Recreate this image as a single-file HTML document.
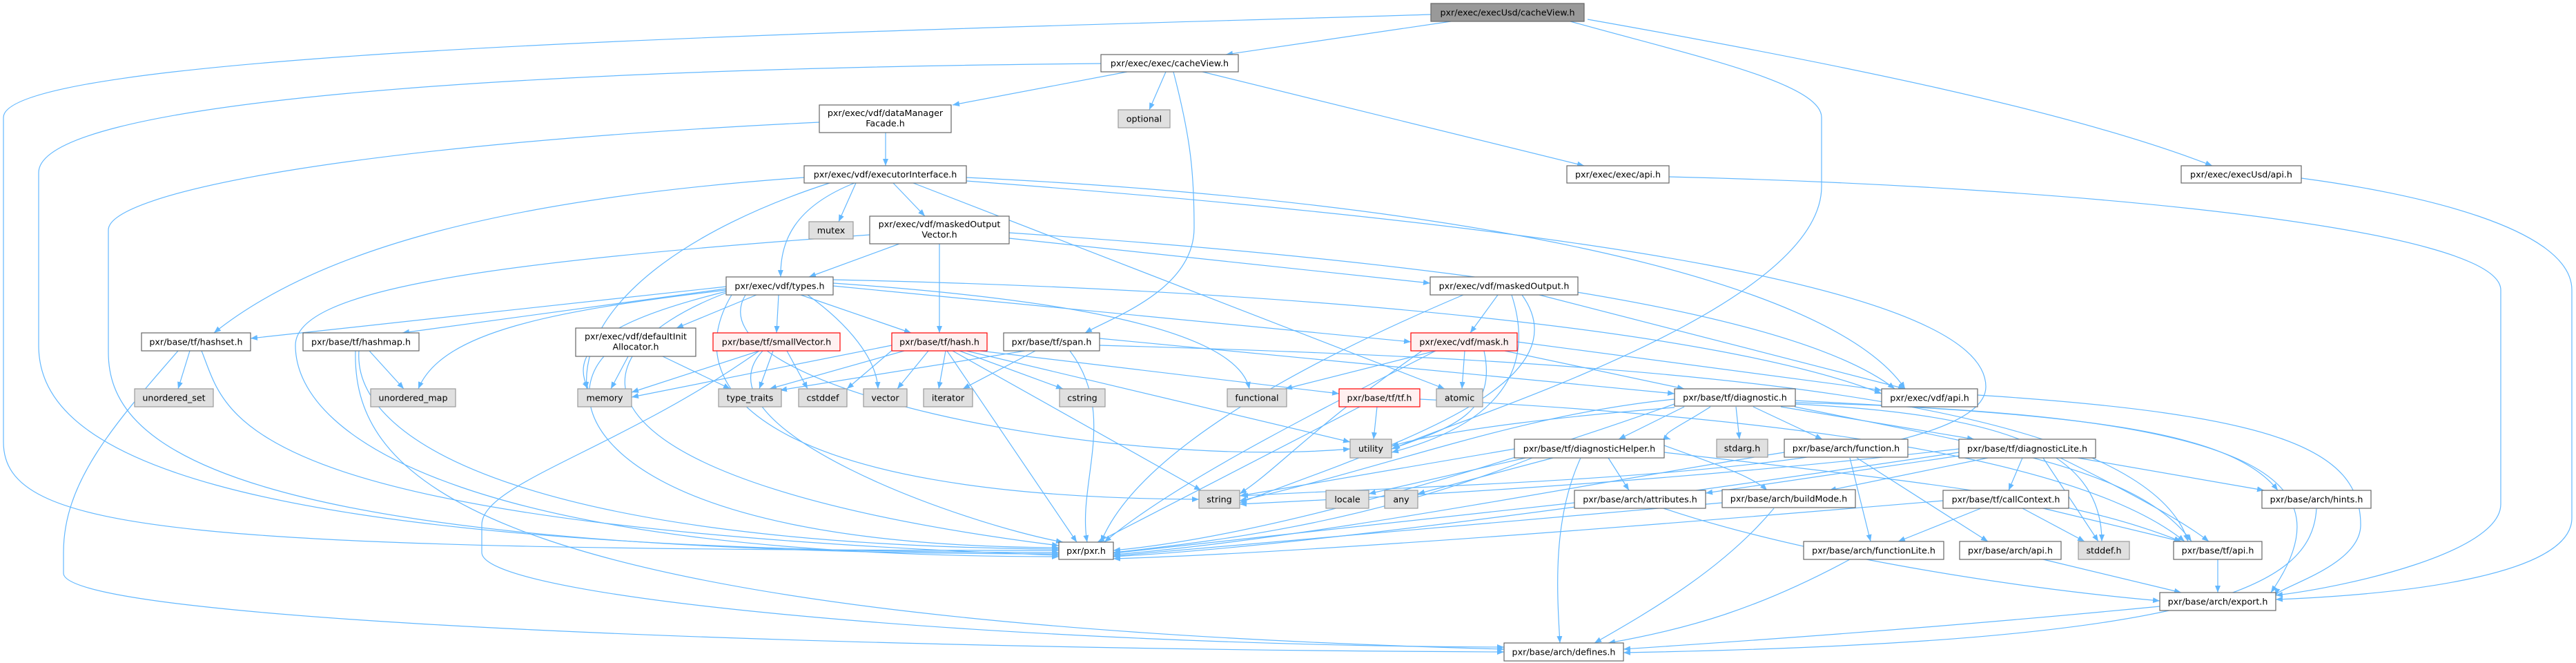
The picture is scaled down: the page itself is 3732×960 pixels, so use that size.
<!DOCTYPE html>
<html><head><meta charset="utf-8"><style>
html,body{margin:0;padding:0;background:#fff;}
svg{display:block;}
text{font-family:"DejaVu Sans","Liberation Sans",sans-serif;font-size:12.7px;fill:#000;text-anchor:middle;}
.e{fill:none;stroke:#63b8ff;stroke-width:1.2;marker-end:url(#a);}
.n{fill:#fff;stroke:#666;stroke-width:1.2;}
.g{fill:#e0e0e0;stroke:#999;stroke-width:1.2;}
.r{fill:#fff0f0;stroke:#f00;stroke-width:1.2;}
.t{fill:#999;stroke:#666;stroke-width:1.2;}
</style></head><body>
<svg width="3732" height="960" viewBox="0 0 3732 960" xmlns="http://www.w3.org/2000/svg">
<defs><marker id="a" markerUnits="userSpaceOnUse" markerWidth="11" markerHeight="8" refX="10" refY="4" orient="auto"><path d="M0,0 L10,4 L0,8 z" fill="#63b8ff"/></marker></defs>
<g>
<path class="e" d="M2102,31 L1776,79"/>
<path class="e" d="M2073,21 C1300,45 5,70 5,170 L5,640 C5,770 250,797 1534,797"/>
<path class="e" d="M2275,31 C2450,80 2639,120 2639,170 L2639,270 C2639,450 2100,610 2018,650"/>
<path class="e" d="M2300,28 C2650,90 3000,160 3205,240"/>
<path class="e" d="M1595,92 C700,100 56,150 56,250 L56,500 C56,640 250,800 1534,800"/>
<path class="e" d="M1633,104 L1380,152"/>
<path class="e" d="M1689,104 L1665,159"/>
<path class="e" d="M1700,104 C1725,200 1730,250 1730,330 C1730,420 1610,460 1572,482"/>
<path class="e" d="M1742,104 L2295,240"/>
<path class="e" d="M1187,177 C500,210 157,280 157,333 L157,510 C157,640 300,802 1534,802"/>
<path class="e" d="M1283,192 L1283,240"/>
<path class="e" d="M1165,257 C700,290 450,370 310,482"/>
<path class="e" d="M1202,265 C1000,330 840,440 850,563"/>
<path class="e" d="M1240,265 L1215,321"/>
<path class="e" d="M1238,265 C1150,300 1130,350 1131,401"/>
<path class="e" d="M1294,265 L1340,313"/>
<path class="e" d="M1323,265 L2093,563"/>
<path class="e" d="M1400,257 C2100,290 2650,400 2760,563"/>
<path class="e" d="M1400,262 C2300,330 2877,420 2877,560 C2877,690 2100,700 1798,718"/>
<path class="e" d="M2418,256 C3000,270 3623,330 3623,420 L3623,730 C3623,800 3400,850 3297,862"/>
<path class="e" d="M3334,258 C3500,280 3726,330 3726,420 L3726,750 C3726,830 3500,860 3297,868"/>
<path class="e" d="M1303,353 L1172,401"/>
<path class="e" d="M1361,353 L1361,482"/>
<path class="e" d="M1260,340 C700,380 428,420 428,500 C428,640 700,806 1534,806"/>
<path class="e" d="M1462,345 L2072,410"/>
<path class="e" d="M1462,337 C2100,380 2600,450 2745,563"/>
<path class="e" d="M1052,415 L363,490"/>
<path class="e" d="M1052,418 L583,482"/>
<path class="e" d="M1052,420 C800,450 640,480 606,563"/>
<path class="e" d="M1052,422 C900,460 820,500 852,563"/>
<path class="e" d="M1052,424 C800,520 820,700 1534,790"/>
<path class="e" d="M1096,427 L980,475"/>
<path class="e" d="M1128,427 L1125,482"/>
<path class="e" d="M1160,427 L1320,482"/>
<path class="e" d="M1170,427 C1230,470 1270,520 1272,563"/>
<path class="e" d="M1207,410 C1500,430 1790,470 1810,563"/>
<path class="e" d="M1207,414 L2044,495"/>
<path class="e" d="M1207,405 C1900,420 2500,480 2726,570"/>
<path class="e" d="M1060,427 C980,560 1100,720 1737,723"/>
<path class="e" d="M1080,427 C1000,560 1600,680 1956,650"/>
<path class="e" d="M275,508 L258,563"/>
<path class="e" d="M292,508 C330,600 320,760 1534,804"/>
<path class="e" d="M258,508 C160,620 92,700 92,800 L92,830 C92,900 1200,940 2179,944"/>
<path class="e" d="M535,508 L585,563"/>
<path class="e" d="M520,508 C510,650 800,790 1534,795"/>
<path class="e" d="M515,508 C510,700 700,900 2179,940"/>
<path class="e" d="M910,516 L885,563"/>
<path class="e" d="M960,516 L1058,563"/>
<path class="e" d="M875,516 C800,600 900,790 1534,793"/>
<path class="e" d="M1100,508 L915,568"/>
<path class="e" d="M1120,508 L1100,563"/>
<path class="e" d="M1140,508 L1170,563"/>
<path class="e" d="M1105,508 C1000,620 1400,760 1540,785"/>
<path class="e" d="M1100,508 C900,650 698,700 698,760 L698,800 C698,870 1500,935 2179,937"/>
<path class="e" d="M1345,508 L1300,563"/>
<path class="e" d="M1370,508 L1360,563"/>
<path class="e" d="M1390,508 L1540,563"/>
<path class="e" d="M1380,508 L1740,710"/>
<path class="e" d="M1400,508 L1956,640"/>
<path class="e" d="M1372,508 L1560,785"/>
<path class="e" d="M1420,508 L1940,570"/>
<path class="e" d="M1292,500 L915,575"/>
<path class="e" d="M1310,508 L1115,563"/>
<path class="e" d="M1295,505 L1227,563"/>
<path class="e" d="M1500,508 L1395,563"/>
<path class="e" d="M1550,508 C1620,600 1560,700 1575,785"/>
<path class="e" d="M1485,508 L1130,565"/>
<path class="e" d="M1593,500 C2300,520 3100,560 3170,784"/>
<path class="e" d="M1593,490 L2426,570"/>
<path class="e" d="M1995,589 L1990,636"/>
<path class="e" d="M1970,589 L1590,785"/>
<path class="e" d="M2057,578 C2500,600 3000,650 3165,784"/>
<path class="e" d="M2080,508 L1862,563"/>
<path class="e" d="M2122,508 L2118,563"/>
<path class="e" d="M2150,508 C2170,600 2100,620 2016,650"/>
<path class="e" d="M2080,508 C1900,600 1700,700 1600,785"/>
<path class="e" d="M2180,508 L2440,563"/>
<path class="e" d="M2198,495 L2726,565"/>
<path class="e" d="M2060,508 C1900,620 1850,680 1796,715"/>
<path class="e" d="M2170,427 L2130,482"/>
<path class="e" d="M2120,427 C1900,520 1650,650 1595,785"/>
<path class="e" d="M2190,427 C2230,550 2150,620 2016,655"/>
<path class="e" d="M2230,427 L2760,563"/>
<path class="e" d="M2205,427 C2300,560 2000,650 1796,728"/>
<path class="e" d="M2515,589 L2520,636"/>
<path class="e" d="M2440,589 L2345,636"/>
<path class="e" d="M2540,589 L2640,636"/>
<path class="e" d="M2580,589 L2860,636"/>
<path class="e" d="M2426,578 C2200,600 2000,680 1796,725"/>
<path class="e" d="M2426,590 C2300,600 2100,620 2016,646"/>
<path class="e" d="M2426,585 C2100,700 1800,780 1613,797"/>
<path class="e" d="M2600,589 C2900,650 3100,680 3175,784"/>
<path class="e" d="M2600,585 C2900,600 3045,650 3045,784"/>
<path class="e" d="M2600,580 C3000,600 3230,620 3300,710"/>
<path class="e" d="M2600,583 C3300,600 3400,700 3290,858"/>
<path class="e" d="M2865,572 C3300,600 3420,650 3420,760 C3420,820 3300,850 3297,862"/>
<path class="e" d="M2194,650 L1796,718"/>
<path class="e" d="M2210,663 L1983,715"/>
<path class="e" d="M2250,663 L2054,715"/>
<path class="e" d="M2330,663 L2360,710"/>
<path class="e" d="M2290,663 C2250,750 2255,850 2260,931"/>
<path class="e" d="M2220,663 C2000,750 1800,780 1613,800"/>
<path class="e" d="M2411,655 C2800,700 3000,720 3160,784"/>
<path class="e" d="M2411,645 C2480,670 2540,690 2560,710"/>
<path class="e" d="M2478,589 C2430,620 2400,630 2420,636"/>
<path class="e" d="M2680,663 L2710,784"/>
<path class="e" d="M2690,663 L2880,784"/>
<path class="e" d="M2585,655 C2300,700 1900,780 1613,803"/>
<path class="e" d="M2930,663 L2910,710"/>
<path class="e" d="M2880,663 L2650,710"/>
<path class="e" d="M2960,663 L3040,784"/>
<path class="e" d="M2985,663 C3100,720 3170,760 3200,784"/>
<path class="e" d="M3010,663 L3280,710"/>
<path class="e" d="M2838,655 C2400,720 1900,790 1613,806"/>
<path class="e" d="M2838,650 C2400,700 2000,720 1796,730"/>
<path class="e" d="M2838,660 L2471,714"/>
<path class="e" d="M2870,736 L2750,784"/>
<path class="e" d="M2930,736 L3020,784"/>
<path class="e" d="M2960,736 L3160,784"/>
<path class="e" d="M2815,725 C2400,760 1900,800 1613,809"/>
<path class="e" d="M2570,736 C2500,820 2400,880 2310,931"/>
<path class="e" d="M2495,728 L1613,805"/>
<path class="e" d="M2410,736 C2600,800 2900,850 3129,870"/>
<path class="e" d="M2281,728 L1613,801"/>
<path class="e" d="M3356,736 C3350,850 3200,930 2352,945"/>
<path class="e" d="M2680,810 C2550,880 2450,910 2330,931"/>
<path class="e" d="M2960,810 L3160,858"/>
<path class="e" d="M3213,810 L3213,858"/>
<path class="e" d="M3129,878 C2800,910 2500,930 2352,940"/>
</g>
<g>
<rect class="t" x="2073" y="5" width="222" height="26"/><text x="2184" y="22.5">pxr/exec/execUsd/cacheView.h</text>
<rect class="n" x="1595" y="79" width="199" height="25"/><text x="1694.5" y="96">pxr/exec/exec/cacheView.h</text>
<rect class="n" x="1187" y="152" width="191" height="40"/><text x="1282.5" y="168">pxr/exec/vdf/dataManager</text><text x="1282.5" y="183">Facade.h</text>
<rect class="g" x="1620" y="159" width="75" height="26"/><text x="1657.5" y="176.5">optional</text>
<rect class="n" x="2270" y="240" width="148" height="25"/><text x="2344" y="257">pxr/exec/exec/api.h</text>
<rect class="n" x="3160" y="240" width="174" height="25"/><text x="3247" y="257">pxr/exec/execUsd/api.h</text>
<rect class="n" x="1165" y="240" width="235" height="25"/><text x="1282.5" y="257">pxr/exec/vdf/executorInterface.h</text>
<rect class="g" x="1172" y="321" width="64" height="25"/><text x="1204" y="338">mutex</text>
<rect class="n" x="1260" y="313" width="202" height="40"/><text x="1361" y="329">pxr/exec/vdf/maskedOutput</text><text x="1361" y="344">Vector.h</text>
<rect class="n" x="1052" y="401" width="155" height="26"/><text x="1129.5" y="418.5">pxr/exec/vdf/types.h</text>
<rect class="n" x="2072" y="401" width="214" height="26"/><text x="2179" y="418.5">pxr/exec/vdf/maskedOutput.h</text>
<rect class="n" x="205" y="482" width="158" height="26"/><text x="284" y="499.5">pxr/base/tf/hashset.h</text>
<rect class="n" x="439" y="482" width="168" height="26"/><text x="523" y="499.5">pxr/base/tf/hashmap.h</text>
<rect class="n" x="834" y="475" width="174" height="41"/><text x="921" y="491.5">pxr/exec/vdf/defaultInit</text><text x="921" y="506.5">Allocator.h</text>
<rect class="r" x="1033" y="482" width="184" height="26"/><text x="1125" y="499.5">pxr/base/tf/smallVector.h</text>
<rect class="r" x="1292" y="482" width="138" height="26"/><text x="1361" y="499.5">pxr/base/tf/hash.h</text>
<rect class="n" x="1454" y="482" width="139" height="26"/><text x="1523.5" y="499.5">pxr/base/tf/span.h</text>
<rect class="r" x="2044" y="482" width="154" height="26"/><text x="2121" y="499.5">pxr/exec/vdf/mask.h</text>
<rect class="g" x="195" y="563" width="114" height="26"/><text x="252" y="580.5">unordered_set</text>
<rect class="g" x="537" y="563" width="123" height="26"/><text x="598.5" y="580.5">unordered_map</text>
<rect class="g" x="837" y="563" width="78" height="26"/><text x="876" y="580.5">memory</text>
<rect class="g" x="1041" y="563" width="91" height="26"/><text x="1086.5" y="580.5">type_traits</text>
<rect class="g" x="1157" y="563" width="70" height="26"/><text x="1192" y="580.5">cstddef</text>
<rect class="g" x="1251" y="563" width="63" height="26"/><text x="1282.5" y="580.5">vector</text>
<rect class="g" x="1338" y="563" width="71" height="26"/><text x="1373.5" y="580.5">iterator</text>
<rect class="g" x="1535" y="563" width="66" height="26"/><text x="1568" y="580.5">cstring</text>
<rect class="g" x="1778" y="563" width="86" height="26"/><text x="1821" y="580.5">functional</text>
<rect class="r" x="1940" y="563" width="117" height="26"/><text x="1998.5" y="580.5">pxr/base/tf/tf.h</text>
<rect class="g" x="2081" y="563" width="67" height="26"/><text x="2114.5" y="580.5">atomic</text>
<rect class="n" x="2426" y="563" width="175" height="25"/><text x="2513.5" y="580">pxr/base/tf/diagnostic.h</text>
<rect class="n" x="2726" y="563" width="139" height="26"/><text x="2795.5" y="580.5">pxr/exec/vdf/api.h</text>
<rect class="g" x="1956" y="636" width="60" height="27"/><text x="1986" y="654">utility</text>
<rect class="g" x="2487" y="636" width="74" height="26"/><text x="2524" y="653.5">stdarg.h</text>
<rect class="n" x="2194" y="636" width="217" height="27"/><text x="2302.5" y="654">pxr/base/tf/diagnosticHelper.h</text>
<rect class="n" x="2585" y="636" width="179" height="26"/><text x="2674.5" y="653.5">pxr/base/arch/function.h</text>
<rect class="n" x="2838" y="636" width="198" height="27"/><text x="2937" y="654">pxr/base/tf/diagnosticLite.h</text>
<rect class="g" x="1737" y="710" width="59" height="26"/><text x="1766.5" y="727.5">string</text>
<rect class="g" x="1921" y="710" width="62" height="26"/><text x="1952" y="727.5">locale</text>
<rect class="g" x="2006" y="710" width="48" height="26"/><text x="2030" y="727.5">any</text>
<rect class="n" x="2281" y="710" width="190" height="26"/><text x="2376" y="727.5">pxr/base/arch/attributes.h</text>
<rect class="n" x="2495" y="709" width="193" height="26"/><text x="2591.5" y="726.5">pxr/base/arch/buildMode.h</text>
<rect class="n" x="2815" y="710" width="182" height="26"/><text x="2906" y="727.5">pxr/base/tf/callContext.h</text>
<rect class="n" x="3277" y="710" width="158" height="26"/><text x="3356" y="727.5">pxr/base/arch/hints.h</text>
<rect class="n" x="1534" y="785" width="79" height="25"/><text x="1573.5" y="802">pxr/pxr.h</text>
<rect class="n" x="2613" y="784" width="203" height="26"/><text x="2714.5" y="801.5">pxr/base/arch/functionLite.h</text>
<rect class="n" x="2839" y="784" width="147" height="26"/><text x="2912.5" y="801.5">pxr/base/arch/api.h</text>
<rect class="g" x="3011" y="784" width="74" height="26"/><text x="3048" y="801.5">stddef.h</text>
<rect class="n" x="3149" y="784" width="128" height="26"/><text x="3213" y="801.5">pxr/base/tf/api.h</text>
<rect class="n" x="3129" y="858" width="168" height="26"/><text x="3213" y="875.5">pxr/base/arch/export.h</text>
<rect class="n" x="2179" y="931" width="173" height="26"/><text x="2265.5" y="948.5">pxr/base/arch/defines.h</text>
</g>
</svg>
</body></html>
